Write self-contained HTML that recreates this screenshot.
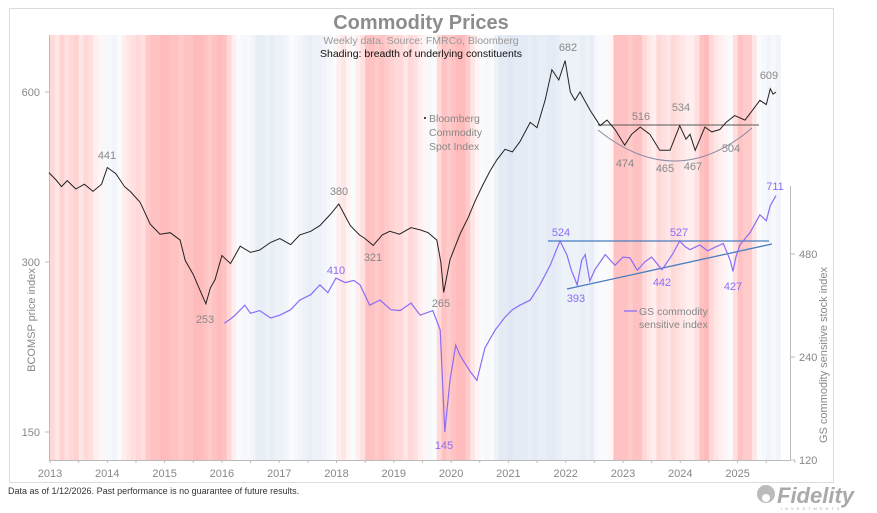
<!DOCTYPE html>
<html><head><meta charset="utf-8"><style>
body{margin:0;background:#fff;width:877px;height:513px;overflow:hidden}
svg{display:block;font-family:"Liberation Sans",sans-serif}
</style></head><body>
<svg id="chart" width="877" height="513" viewBox="0 0 877 513">
<rect x="9.5" y="8.5" width="824" height="474" fill="#fff" stroke="#dcdcdc"/>
<g id="shade"></g>
<g id="axes"></g>
<g id="ann"></g>
<g id="lines"></g>
<text x="421" y="29" text-anchor="middle" font-size="20" font-weight="bold" fill="#8c8c8c">Commodity Prices</text>
<text x="421" y="44" text-anchor="middle" font-size="10.5" fill="#999">Weekly data.  Source: FMRCo, Bloomberg</text>
<text x="421" y="57" text-anchor="middle" font-size="10.5" fill="#111">Shading: breadth of underlying constituents</text>
<g font-size="10.5" fill="#888">
<rect x="424" y="117" width="2" height="2" fill="#444"/>
<text x="429" y="122">Bloomberg</text><text x="429" y="136">Commodity</text><text x="429" y="150">Spot Index</text></g>
<g font-size="10.5" fill="#888">
<line x1="624" y1="311" x2="637" y2="311" stroke="#8b6cf7" stroke-width="1.3"/>
<text x="639" y="315">GS commodity</text><text x="639" y="328">sensitive index</text></g>
<text transform="translate(35,320) rotate(-90)" text-anchor="middle" font-size="11" fill="#888">BCOMSP price index</text>
<text transform="translate(827,355) rotate(-90)" text-anchor="middle" font-size="11" fill="#888">GS commodity sensitive stock index</text>
<text x="8" y="494" font-size="9" fill="#333">Data as of 1/12/2026. Past performance is no guarantee of future results.</text>
<g>
<circle cx="766" cy="494" r="9" fill="#bbb"/><circle cx="766" cy="498" r="4" fill="#fff"/>
<text x="777" y="503" font-size="22" font-weight="bold" font-style="italic" fill="#aaa">Fidelity</text>
<text x="781" y="510" font-size="4" fill="#aaa" letter-spacing="3">INVESTMENTS</text></g>
</svg>
<script>
const shadeStart = 2013;
const breadth = [
-0.5,-0.3,-0.6,-0.4,-0.5,-0.6,-0.3,-0.5,-0.4,-0.2,-0.1,0.1,
0.1,0.2,0.0,-0.2,-0.3,-0.4,-0.5,-0.4,-0.7,-0.8,-0.8,-0.9,
-0.9,-0.8,-0.8,-0.7,-0.8,-0.8,-0.9,-0.9,-0.8,-0.7,-0.8,-0.9,
-0.8,-0.5,-0.2,0.0,0.1,0.1,0.2,0.4,0.4,0.3,0.4,0.3,
0.3,0.2,0.0,0.1,0.2,0.3,0.4,0.3,0.3,0.2,0.1,0.0,
-0.2,-0.3,-0.1,0.0,-0.2,-0.4,-0.8,-0.8,-0.7,-0.8,-0.7,-0.6,
-0.5,-0.5,-0.3,-0.5,-0.4,-0.2,-0.1,0.1,0.0,-0.5,-0.8,-0.7,
-0.8,-0.9,-0.9,-0.7,-0.3,-0.1,0.0,0.1,0.0,0.3,0.5,0.5,
0.6,0.5,0.5,0.5,0.4,0.5,0.4,0.4,0.5,0.5,0.4,0.3,
0.3,0.3,0.3,0.4,0.3,0.4,0.1,0.0,0.0,-0.1,-0.8,-0.8,
-0.8,-0.7,-0.8,-0.8,-0.5,-0.3,-0.2,-0.5,-0.4,-0.3,-0.5,-0.4,
-0.3,-0.2,-0.2,-0.4,-0.8,-0.9,-0.5,-0.3,-0.2,-0.1,0.0,-0.4,
-0.8,-0.7,-0.7,-0.3,0.0,0.1,0.2,0.1,0.2];
const bcomDates = [2012.98,2013.1,2013.2,2013.3,2013.45,2013.6,2013.75,2013.9,2014.0,2014.15,2014.3,2014.4,2014.57,2014.75,2014.92,2015.1,2015.27,2015.36,2015.5,2015.62,2015.72,2015.8,2015.88,2016.0,2016.15,2016.32,2016.5,2016.66,2016.85,2017.01,2017.2,2017.36,2017.55,2017.71,2017.9,2018.04,2018.15,2018.24,2018.4,2018.5,2018.64,2018.8,2018.93,2019.1,2019.3,2019.46,2019.6,2019.75,2019.82,2019.87,2019.98,2020.16,2020.3,2020.42,2020.55,2020.68,2020.8,2020.94,2021.07,2021.2,2021.38,2021.5,2021.64,2021.76,2021.88,2021.99,2022.08,2022.16,2022.25,2022.42,2022.6,2022.72,2022.86,2023.03,2023.15,2023.3,2023.47,2023.64,2023.82,2023.99,2024.1,2024.17,2024.26,2024.43,2024.55,2024.69,2024.8,2024.95,2025.13,2025.25,2025.39,2025.5,2025.57,2025.62,2025.67];
const bcomValues = [432,420,408,418,404,412,400,412,441,430,408,400,383,350,336,338,328,302,285,267,253,270,279,308,298,320,312,315,325,330,322,335,340,348,365,380,362,348,335,330,321,335,340,336,345,342,338,328,300,265,303,337,360,385,410,435,455,475,470,490,530,519,580,657,630,682,600,580,600,558,523,535,515,483,505,520,505,473,473,523,495,505,473,520,510,515,530,545,535,555,580,570,608,595,600];
const gsDates = [2016.04,2016.15,2016.23,2016.4,2016.5,2016.66,2016.85,2017.01,2017.2,2017.36,2017.55,2017.71,2017.85,2017.99,2018.15,2018.3,2018.41,2018.58,2018.76,2018.95,2019.11,2019.3,2019.46,2019.68,2019.81,2019.89,2019.98,2020.08,2020.16,2020.33,2020.45,2020.59,2020.77,2020.94,2021.07,2021.2,2021.38,2021.55,2021.73,2021.9,2021.96,2022.02,2022.1,2022.2,2022.28,2022.34,2022.42,2022.51,2022.69,2022.86,2023.0,2023.12,2023.25,2023.38,2023.5,2023.68,2023.86,2023.99,2024.08,2024.17,2024.34,2024.48,2024.6,2024.75,2024.87,2024.92,2024.97,2025.04,2025.22,2025.39,2025.5,2025.57,2025.67];
const gsValues = [301,310,318,340,322,328,312,318,330,352,365,390,370,408,396,402,390,340,352,330,328,345,318,328,288,145,205,260,242,218,205,255,288,314,330,340,352,390,445,524,500,478,430,390,460,478,400,432,478,445,470,468,430,455,470,432,478,524,505,494,510,490,502,515,460,427,470,510,555,625,600,665,711];
const bcomLabels = [[441,107,155],[380,339,191],[321,373,257],[253,205,319],[265,441,303],[682,568,47],[516,641,116],[534,681,107],[474,625,163],[465,665,168],[467,693,166],[504,731,148],[609,769,75]];
const gsLabels = [[410,336,270],[145,444,445],[524,561,232],[527,679,232],[393,576,298],[442,662,282],[427,733,286],[711,775,186]];
const leftTicks = [600,300,150];
const rightTicks = [480,240,120];
const yearTicks = [2013,2014,2015,2016,2017,2018,2019,2020,2021,2022,2023,2024,2025];

const NS="http://www.w3.org/2000/svg";
const X=t=>50+(t-2013)*57.3;
const YL=v=>262-170*Math.log2(v/300);
const YR=v=>460-103*Math.log2(v/120);
function mk(tag,attrs,parent,txt){const e=document.createElementNS(NS,tag);for(const k in attrs)e.setAttribute(k,attrs[k]);if(txt!==undefined)e.textContent=txt;parent.appendChild(e);return e;}
const shade=document.getElementById('shade'),axes=document.getElementById('axes'),ann=document.getElementById('ann'),lines=document.getElementById('lines');
breadth.forEach((b,i)=>{const x0=X(shadeStart+i/12),x1=X(shadeStart+(i+1)/12);const a=Math.abs(b);
 const col=b<0?`rgb(255,${Math.round(252-72*a)},${Math.round(252-72*a)})`:`rgb(${Math.round(250-45*a)},${Math.round(251-33*a)},${Math.round(253-18*a)})`;
 const r=mk('rect',{x:x0,y:35,width:x1-x0+0.3,height:425,fill:col},shade);
 
 });
mk('line',{x1:49.5,y1:35,x2:49.5,y2:460,stroke:'#bbb'},axes);
mk('line',{x1:49,y1:460.5,x2:790,y2:460.5,stroke:'#bbb'},axes);
mk('line',{x1:790.5,y1:186,x2:790.5,y2:460,stroke:'#bbb'},axes);
leftTicks.forEach(v=>{mk('line',{x1:45,y1:YL(v),x2:49,y2:YL(v),stroke:'#bbb'},axes);
 const t=mk('text',{x:40,y:YL(v)+4,'text-anchor':'end','font-size':11,fill:'#888'},axes,v);
 
 });
rightTicks.forEach(v=>{mk('line',{x1:790,y1:YR(v),x2:795,y2:YR(v),stroke:'#bbb'},axes);
 const t=mk('text',{x:799,y:YR(v)+4,'font-size':11,fill:'#888'},axes,v);
 
 });
for(let h=2013;h<=2026;h+=0.5){mk('line',{x1:X(h),y1:460,x2:X(h),y2:463,stroke:'#bbb'},axes);}
yearTicks.forEach(y=>{const t=mk('text',{x:X(y),y:477,'text-anchor':'middle','font-size':11,fill:'#888'},axes,y);
 
 });
mk('line',{x1:598,y1:125,x2:759,y2:125,stroke:'#555','stroke-width':1},ann);
mk('path',{d:'M598,130 Q676,193 752,128',fill:'none',stroke:'#8a8aa0','stroke-width':1},ann);
mk('line',{x1:548,y1:241,x2:769,y2:241,stroke:'#4a7cc0','stroke-width':1.3},ann);
mk('line',{x1:567,y1:289,x2:772,y2:244,stroke:'#4a7cc0','stroke-width':1.3},ann);
const bp=bcomDates.map((t,i)=>X(t).toFixed(1)+','+YL(bcomValues[i]).toFixed(1)).join(' ');
const bl=mk('polyline',{points:bp,fill:'none',stroke:'#222','stroke-width':1},lines);


const gp=gsDates.map((t,i)=>X(t).toFixed(1)+','+YR(gsValues[i]).toFixed(1)).join(' ');
const gl=mk('polyline',{points:gp,fill:'none',stroke:'#8b6cf7','stroke-width':1.2},lines);


bcomLabels.forEach(([v,x,y])=>{const t=mk('text',{x:x,y:y+4,'text-anchor':'middle','font-size':11,fill:'#888'},ann,v);
 
 });
gsLabels.forEach(([v,x,y])=>{const t=mk('text',{x:x,y:y+4,'text-anchor':'middle','font-size':11,fill:'#8b6cf7'},ann,v);
 
 });
</script>
</body></html>
